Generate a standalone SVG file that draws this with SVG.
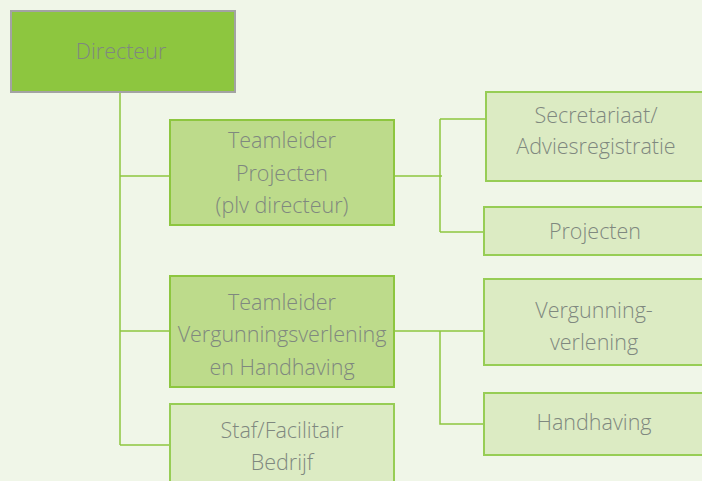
<svg xmlns="http://www.w3.org/2000/svg" width="702" height="481" viewBox="0 0 702 481">
<style>
.bg{fill:#f0f6e8}
.top{fill:#8dc63f;stroke:#a3a3a3;stroke-width:2}
.mid{fill:#bddb8b;stroke:#8dc63f;stroke-width:2}
.lt{fill:#dcebc3;stroke:#97cd55;stroke-width:2}
.t{font-family:"Open Sans",sans-serif;font-size:21.5px;font-weight:300;fill:#7f887f;text-anchor:middle}
.c{fill:none;stroke:#8dc63f;stroke-width:1.5}
</style>
<rect class="bg" x="0" y="0" width="702" height="481"/>
<g id="connectors">
<path class="c" d="M120 92 V445 M120 176 H170 M120 331 H170 M120 445 H170"/>
<path class="c" d="M394 176 H442 M440 119 V232 M440 119 H486 M440 232 H484"/>
<path class="c" d="M394 331 H484 M440 331 V424 H484"/>
</g>
<g id="directeur"><rect class="top" x="11" y="11" width="224" height="81"/><text class="t" x="121" y="59">Directeur</text></g>
<g id="tl-projecten"><rect class="mid" x="170" y="120" width="224" height="105"/><text class="t" x="282" y="148">Teamleider</text><text class="t" x="282" y="181">Projecten</text><text class="t" x="282" y="213">(plv directeur)</text></g>
<g id="tl-vh"><rect class="mid" x="170" y="276" width="224" height="111"/><text class="t" x="282" y="310">Teamleider</text><text class="t" x="282" y="342">Vergunningsverlening</text><text class="t" x="282" y="375">en Handhaving</text></g>
<g id="staf"><rect class="lt" x="170" y="404" width="224" height="90"/><text class="t" x="282" y="438">Staf/Facilitair</text><text class="t" x="282" y="470">Bedrijf</text></g>
<g id="secretariaat"><rect class="lt" x="486" y="92" width="230" height="89"/><text class="t" x="596" y="123">Secretariaat/</text><text class="t" x="596" y="154">Adviesregistratie</text></g>
<g id="projecten"><rect class="lt" x="484" y="207" width="232" height="48"/><text class="t" x="595" y="239">Projecten</text></g>
<g id="vergunning"><rect class="lt" x="484" y="279" width="232" height="86"/><text class="t" x="594" y="318">Vergunning-</text><text class="t" x="594" y="350">verlening</text></g>
<g id="handhaving"><rect class="lt" x="484" y="393" width="232" height="62"/><text class="t" x="594" y="430">Handhaving</text></g>
</svg>
